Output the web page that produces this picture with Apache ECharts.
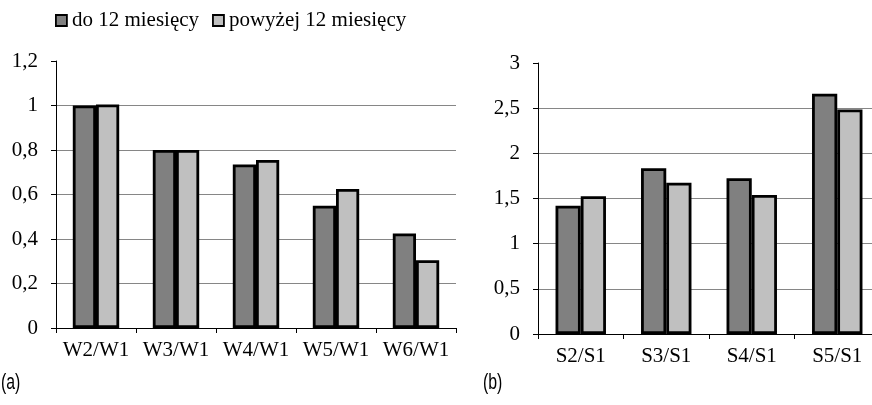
<!DOCTYPE html>
<html><head><meta charset="utf-8">
<script src="https://cdn.jsdelivr.net/npm/echarts@6/dist/echarts.min.js"></script>
<style>html,body{margin:0;padding:0;background:#fff}#c{width:872px;height:405px}</style>
</head><body><div id="c"></div>
<script>
const seriesNames = ['do 12 miesięcy', 'powyżej 12 miesięcy'];
const catsA = ['W2/W1', 'W3/W1', 'W4/W1', 'W5/W1', 'W6/W1'];
const shortA = [1.0, 0.80, 0.735, 0.55, 0.425];
const longA = [1.005, 0.80, 0.755, 0.625, 0.305];
const catsB = ['S2/S1', 'S3/S1', 'S4/S1', 'S5/S1'];
const shortB = [1.42, 1.835, 1.725, 2.66];
const longB = [1.525, 1.675, 1.54, 2.485];
const panelLabels = ['(a)', '(b)'];

const FONT = '"Liberation Serif","Times New Roman",serif';
const colors = ['#808080', '#c0c0c0'];
const fmt = v => String(Math.round(v * 10) / 10).replace('.', ',');

function xAxis(cats, idx) {
  return {
    type: 'category', gridIndex: idx, data: cats,
    axisLine: {lineStyle: {color: '#000', width: 1}},
    axisTick: {show: true, length: 5, inside: false, lineStyle: {color: '#000'}},
    axisLabel: {color: '#000', fontFamily: FONT, fontSize: 21, margin: 12, interval: 0, hideOverlap: false}
  };
}
function yAxis(max, interval, idx) {
  return {
    type: 'value', gridIndex: idx, min: 0, max: max, interval: interval,
    axisLine: {show: true, lineStyle: {color: '#000', width: 1}},
    axisTick: {show: true, length: 5, lineStyle: {color: '#000'}},
    axisLabel: {color: '#000', fontFamily: FONT, fontSize: 21, margin: 18, formatter: fmt},
    splitLine: {show: true, showMaxLine: false, lineStyle: {color: '#868686', width: 1}}
  };
}
function bar(name, data, idx, colorIdx, gap) {
  return {
    type: 'bar', name: name, data: data, xAxisIndex: idx, yAxisIndex: idx,
    barGap: '0%', barCategoryGap: gap,
    itemStyle: {color: colors[colorIdx], borderColor: '#000', borderWidth: 2.8},
    emphasis: {disabled: true}
  };
}

const chart = echarts.init(document.getElementById('c'), null, {renderer: 'canvas'});
chart.setOption({
  animation: false,
  legend: {
    left: 50, top: 5, itemWidth: 11, itemHeight: 11, itemGap: 13,
    icon: 'rect',
    itemStyle: {borderColor: '#000', borderWidth: 1.8},
    textStyle: {fontFamily: FONT, fontSize: 21, color: '#000'},
    data: seriesNames
  },
  grid: [
    {left: 56, top: 61, width: 400, height: 267, outerBoundsMode: 'none'},
    {left: 538, top: 63, width: 342, height: 271, outerBoundsMode: 'none'}
  ],
  xAxis: [xAxis(catsA, 0), xAxis(catsB, 1)],
  yAxis: [yAxis(1.2, 0.2, 0), yAxis(3, 0.5, 1)],
  series: [
    bar(seriesNames[0], shortA, 0, 0, '42%'),
    bar(seriesNames[1], longA, 0, 1, '42%'),
    bar(seriesNames[0], shortB, 1, 0, '41%'),
    bar(seriesNames[1], longB, 1, 1, '41%')
  ],
  graphic: [
    {type: 'text', x: 1, y: 372, scaleX: 0.72, style: {text: panelLabels[0], font: '22px "Liberation Sans",sans-serif', fill: '#000'}},
    {type: 'text', x: 483, y: 372, scaleX: 0.72, style: {text: panelLabels[1], font: '22px "Liberation Sans",sans-serif', fill: '#000'}}
  ]
});
</script></body></html>
